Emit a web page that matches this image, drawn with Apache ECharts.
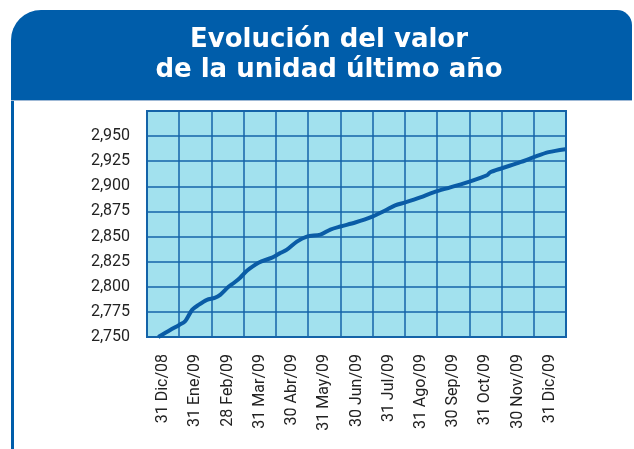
<!DOCTYPE html>
<html>
<head>
<meta charset="utf-8">
<script src="https://cdn.jsdelivr.net/npm/echarts@6/dist/echarts.min.js"></script>
<style>
html,body{margin:0;padding:0;background:#fff;}
#chart{width:634px;height:449px;}
</style>
</head>
<body>
<div id="chart"></div>
<script>
// ---- data ----
var titleLines = ['Evolución del valor', 'de la unidad último año'];
var categories = ['31 Dic/08','31 Ene/09','28 Feb/09','31 Mar/09','30 Abr/09','31 May/09','30 Jun/09','31 Jul/09','31 Ago/09','30 Sep/09','31 Oct/09','30 Nov/09','31 Dic/09'];
var yMin = 2.750, yMax = 2.975, yStep = 0.025;
// position of each observation, in months since 31 Dic/08 column start
var obsPosition = [0.35,0.72,1.0,1.19,1.40,1.6,1.86,2.1,2.27,2.53,2.7,2.89,3.10,3.46,3.88,4.1,4.34,4.65,4.96,5.38,5.69,6.00,6.46,6.93,7.39,7.70,8.01,8.48,8.89,9.41,10.03,10.55,10.65,11.01,11.58,12.00,12.46,12.98];
var unitValues = [2.750,2.757,2.762,2.766,2.777,2.782,2.787,2.789,2.792,2.800,2.804,2.809,2.816,2.824,2.829,2.833,2.837,2.845,2.850,2.852,2.857,2.860,2.864,2.869,2.876,2.881,2.884,2.889,2.894,2.899,2.905,2.911,2.914,2.918,2.924,2.929,2.934,2.937];

var lineData = obsPosition.map(function(p, i){ return [p, unitValues[i]]; });

var blue = '#005DAA';
var gridBlue = '#1463A8';
var chart = echarts.init(document.getElementById('chart'), null, {renderer:'canvas'});
chart.setOption({
  animation: false,
  title: {
    text: titleLines.join('\n'),
    left: 324, top: 20, textAlign: 'center',
    textStyle: {color:'#fff', fontFamily:'DejaVu Sans', fontWeight:'bold', fontSize:26, lineHeight:30}
  },
  graphic: [
    {type:'rect', z:-10, shape:{x:11, y:10, width:621, height:90, r:[30,15,0,0]}, style:{fill:blue}},
    {type:'rect', z:-10, shape:{x:11, y:100, width:621, height:1}, style:{fill:'#9FB9D6'}},
    {type:'rect', z:-10, shape:{x:11, y:101, width:3, height:348}, style:{fill:blue}}
  ],
  grid: {left:147, right:68, top:111, bottom:112, show:true, backgroundColor:'#A2E1EE', borderColor:gridBlue, borderWidth:2},
  xAxis: [
    {type:'category', data:categories, boundaryGap:true,
     axisLine:{show:false}, axisTick:{show:false},
     axisLabel:{rotate:90, margin:17, color:'#222', fontFamily:'Roboto', fontSize:16, interval:0},
     splitLine:{show:true, interval:0, lineStyle:{color:gridBlue, width:1.5}}},
    {type:'value', min:0, max:categories.length, show:false}
  ],
  yAxis: {type:'value', min:yMin, max:yMax, interval:yStep,
    axisLine:{show:false}, axisTick:{show:false},
    axisLabel:{margin:17, color:'#222', fontFamily:'Roboto', fontSize:16,
      formatter:function(v){ return v > 2.96 ? '' : v.toFixed(3).replace('.', ','); }},
    splitLine:{show:true, lineStyle:{color:gridBlue, width:1.5}}},
  series: [{
    type:'line', xAxisIndex:1, data:lineData, showSymbol:false, smooth:0.3,
    lineStyle:{color:'#0A5CA6', width:4}
  }]
});
</script>
</body>
</html>
